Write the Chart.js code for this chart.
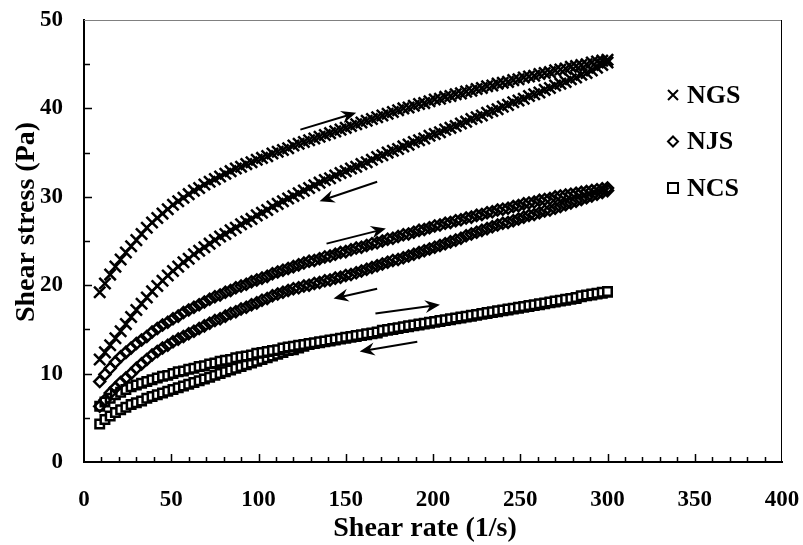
<!DOCTYPE html>
<html>
<head>
<meta charset="utf-8">
<script src="https://cdn.jsdelivr.net/npm/chart.js@4.4.0/dist/chart.umd.min.js"></script>
<style>
  html, body { margin: 0; padding: 0; background: #fff; }
</style>
</head>
<body>
<canvas id="myChart" width="803" height="545"></canvas>
<script>
// shear rate (1/s), shared by every curve
const shearRate = [
  9, 12, 15, 18, 21, 24, 27, 30, 33, 36,
  39, 42, 45, 48, 51, 54, 57, 60, 63, 66,
  69, 72, 75, 78, 81, 84, 87, 90, 93, 96,
  99, 102, 105, 108, 111, 114, 117, 120, 123, 126,
  129, 132, 135, 138, 141, 144, 147, 150, 153, 156,
  159, 162, 165, 168, 171, 174, 177, 180, 183, 186,
  189, 192, 195, 198, 201, 204, 207, 210, 213, 216,
  219, 222, 225, 228, 231, 234, 237, 240, 243, 246,
  249, 252, 255, 258, 261, 264, 267, 270, 273, 276,
  279, 282, 285, 288, 291, 294, 297, 300
];

// shear stress (Pa), increasing and decreasing ramps
const ngsUp = [
  19.2, 20.2, 21.2, 22.1, 22.9, 23.7, 24.4, 25.1, 25.8, 26.5,
  27.1, 27.6, 28.1, 28.6, 29.1, 29.5, 29.9, 30.3, 30.7, 31.0,
  31.4, 31.7, 32.0, 32.3, 32.6, 32.9, 33.2, 33.4, 33.7, 33.9,
  34.2, 34.4, 34.6, 34.9, 35.1, 35.3, 35.5, 35.8, 36.0, 36.2,
  36.4, 36.6, 36.8, 37.0, 37.2, 37.4, 37.6, 37.8, 38.0, 38.2,
  38.4, 38.6, 38.8, 39.0, 39.2, 39.4, 39.6, 39.8, 40.0, 40.1,
  40.3, 40.5, 40.6, 40.8, 41.0, 41.1, 41.3, 41.4, 41.6, 41.7,
  41.9, 42.0, 42.2, 42.3, 42.5, 42.6, 42.8, 42.9, 43.0, 43.2,
  43.3, 43.5, 43.6, 43.7, 43.9, 44.0, 44.1, 44.3, 44.4, 44.5,
  44.7, 44.8, 44.9, 45.0, 45.2, 45.3, 45.4, 45.5
];
const ngsDown = [
  11.6, 12.4, 13.2, 14.0, 14.8, 15.6, 16.4, 17.2, 17.9, 18.6,
  19.3, 19.9, 20.5, 21.1, 21.6, 22.1, 22.6, 23.0, 23.5, 23.9,
  24.3, 24.7, 25.1, 25.5, 25.8, 26.2, 26.5, 26.9, 27.2, 27.5,
  27.9, 28.2, 28.5, 28.9, 29.2, 29.5, 29.8, 30.1, 30.4, 30.7,
  31.0, 31.3, 31.6, 31.9, 32.1, 32.4, 32.7, 32.9, 33.2, 33.4,
  33.7, 33.9, 34.2, 34.5, 34.7, 35.0, 35.2, 35.4, 35.7, 35.9,
  36.2, 36.4, 36.6, 36.9, 37.1, 37.3, 37.6, 37.8, 38.0, 38.3,
  38.5, 38.8, 39.0, 39.2, 39.5, 39.7, 39.9, 40.2, 40.4, 40.7,
  40.9, 41.1, 41.4, 41.6, 41.8, 42.1, 42.3, 42.6, 42.8, 43.0,
  43.3, 43.5, 43.8, 44.0, 44.3, 44.6, 44.9, 45.2
];
const njsUp = [
  9.1, 9.9, 10.6, 11.3, 11.9, 12.4, 12.9, 13.4, 13.8, 14.2,
  14.7, 15.1, 15.5, 15.8, 16.2, 16.5, 16.9, 17.2, 17.5, 17.8,
  18.1, 18.4, 18.7, 18.9, 19.2, 19.4, 19.7, 19.9, 20.1, 20.4,
  20.6, 20.8, 21.0, 21.3, 21.5, 21.7, 21.9, 22.1, 22.3, 22.5,
  22.7, 22.8, 23.0, 23.2, 23.3, 23.5, 23.7, 23.8, 24.0, 24.2,
  24.3, 24.5, 24.7, 24.8, 25.0, 25.2, 25.3, 25.5, 25.7, 25.8,
  26.0, 26.2, 26.3, 26.5, 26.7, 26.8, 27.0, 27.1, 27.3, 27.4,
  27.6, 27.7, 27.9, 28.0, 28.2, 28.3, 28.5, 28.6, 28.7, 28.9,
  29.0, 29.2, 29.3, 29.4, 29.6, 29.7, 29.8, 30.0, 30.1, 30.2,
  30.3, 30.4, 30.5, 30.6, 30.7, 30.8, 30.9, 31.0
];
const njsDown = [
  6.3, 7.0, 7.8, 8.4, 9.0, 9.5, 10.0, 10.6, 11.1, 11.6,
  12.1, 12.5, 12.9, 13.2, 13.6, 13.9, 14.2, 14.5, 14.8, 15.1,
  15.4, 15.7, 16.0, 16.2, 16.5, 16.8, 17.0, 17.3, 17.5, 17.8,
  18.0, 18.3, 18.5, 18.8, 19.0, 19.2, 19.4, 19.6, 19.7, 19.9,
  20.0, 20.2, 20.3, 20.5, 20.6, 20.8, 20.9, 21.1, 21.2, 21.4,
  21.6, 21.8, 22.0, 22.2, 22.4, 22.6, 22.8, 22.9, 23.1, 23.3,
  23.5, 23.7, 23.9, 24.1, 24.3, 24.5, 24.7, 24.9, 25.1, 25.3,
  25.6, 25.8, 26.0, 26.2, 26.4, 26.6, 26.8, 27.0, 27.1, 27.3,
  27.5, 27.7, 27.9, 28.0, 28.2, 28.4, 28.5, 28.7, 28.9, 29.1,
  29.3, 29.5, 29.7, 29.9, 30.1, 30.3, 30.5, 30.7
];
const ncsUp = [
  6.3, 6.8, 7.2, 7.6, 7.9, 8.2, 8.5, 8.7, 8.9, 9.1,
  9.3, 9.5, 9.7, 9.8, 10.0, 10.2, 10.3, 10.5, 10.6, 10.8,
  10.9, 11.1, 11.2, 11.4, 11.5, 11.6, 11.8, 11.9, 12.0, 12.1,
  12.3, 12.4, 12.5, 12.6, 12.7, 12.9, 13.0, 13.1, 13.2, 13.3,
  13.4, 13.5, 13.6, 13.7, 13.8, 13.9, 14.0, 14.1, 14.2, 14.3,
  14.4, 14.5, 14.6, 14.7, 14.9, 15.0, 15.1, 15.2, 15.3, 15.4,
  15.5, 15.6, 15.7, 15.8, 15.9, 16.0, 16.1, 16.2, 16.3, 16.4,
  16.5, 16.6, 16.7, 16.8, 16.9, 17.0, 17.1, 17.2, 17.3, 17.4,
  17.5, 17.6, 17.7, 17.8, 17.9, 18.0, 18.1, 18.2, 18.3, 18.4,
  18.5, 18.6, 18.8, 18.9, 19.0, 19.1, 19.2, 19.3
];
const ncsDown = [
  4.3, 4.8, 5.2, 5.6, 5.9, 6.2, 6.5, 6.7, 6.9, 7.2,
  7.4, 7.6, 7.8, 8.0, 8.2, 8.4, 8.6, 8.8, 9.0, 9.2,
  9.4, 9.6, 9.8, 10.0, 10.2, 10.4, 10.6, 10.8, 11.0, 11.2,
  11.4, 11.6, 11.8, 12.0, 12.2, 12.4, 12.6, 12.7, 12.9, 13.1,
  13.3, 13.4, 13.5, 13.6, 13.7, 13.8, 13.9, 14.0, 14.1, 14.2,
  14.3, 14.4, 14.5, 14.6, 14.8, 14.9, 15.0, 15.1, 15.2, 15.3,
  15.4, 15.5, 15.6, 15.7, 15.8, 15.9, 16.0, 16.1, 16.2, 16.3,
  16.4, 16.5, 16.6, 16.7, 16.8, 16.9, 17.0, 17.1, 17.2, 17.3,
  17.4, 17.5, 17.6, 17.7, 17.8, 17.9, 18.0, 18.1, 18.2, 18.3,
  18.4, 18.5, 18.7, 18.8, 18.9, 19.0, 19.1, 19.2
];

const xTicks = [0, 50, 100, 150, 200, 250, 300, 350, 400];
const yTicks = [0, 10, 20, 30, 40, 50];

// direction arrows [fromX, fromY, toX, toY] in data units
const arrows = [
  [124, 37.6, 156, 39.5],
  [168, 31.7, 135, 29.5],
  [139, 24.7, 173, 26.4],
  [168, 19.6, 143, 18.5],
  [167, 16.8, 204, 17.8],
  [191, 13.6, 158, 12.5]
];

const serif = "'Liberation Serif', 'Times New Roman', serif";

function pts(ys) {
    return shearRate.map((x, i) => ({ x: x, y: ys[i] }));
}

function series(label, ys, style, radius, bw, fill) {
    return {
        label: label,
        data: pts(ys),
        showLine: false,
        pointStyle: style,
        pointRadius: radius,
        pointBorderWidth: bw,
        pointBorderColor: '#000',
        pointBackgroundColor: fill
    };
}

const samples = [
    { label: 'NGS', style: 'crossRot' },
    { label: 'NJS', style: 'rectRot' },
    { label: 'NCS', style: 'rect' }
];

// inward ticks, frame, arrows, legend and axis titles
const decor = {
    id: 'decor',
    afterDraw(chart) {
        const { ctx, chartArea: a, scales: { x, y } } = chart;
        ctx.save();

        ctx.strokeStyle = '#808080';
        ctx.lineWidth = 1;
        ctx.beginPath();
        ctx.moveTo(a.left, a.top + 0.5);
        ctx.lineTo(a.right, a.top + 0.5);
        ctx.stroke();
        ctx.strokeStyle = '#000';
        ctx.beginPath();
        ctx.moveTo(a.right - 0.5, a.top);
        ctx.lineTo(a.right - 0.5, a.bottom);
        ctx.stroke();

        ctx.lineWidth = 1.5;
        ctx.beginPath();
        for (let v = 10; v < 400; v += 10) {
            const px = Math.round(x.getPixelForValue(v)) + 0.5;
            const len = v % 50 === 0 ? 8 : 5;
            ctx.moveTo(px, a.bottom);
            ctx.lineTo(px, a.bottom - len);
        }
        for (let v = 5; v < 50; v += 5) {
            const py = Math.round(y.getPixelForValue(v)) + 0.5;
            const len = v % 10 === 0 ? 8 : 6;
            ctx.moveTo(a.left, py);
            ctx.lineTo(a.left + len, py);
        }
        ctx.stroke();

        ctx.lineWidth = 2;
        ctx.fillStyle = '#000';
        arrows.forEach(ar => {
            const x1 = x.getPixelForValue(ar[0]), y1 = y.getPixelForValue(ar[1]);
            const x2 = x.getPixelForValue(ar[2]), y2 = y.getPixelForValue(ar[3]);
            const ang = Math.atan2(y2 - y1, x2 - x1);
            ctx.beginPath();
            ctx.moveTo(x1, y1);
            ctx.lineTo(x2 - 6 * Math.cos(ang), y2 - 6 * Math.sin(ang));
            ctx.stroke();
            ctx.save();
            ctx.translate(x2, y2);
            ctx.rotate(ang);
            ctx.beginPath();
            ctx.moveTo(0, 0);
            ctx.lineTo(-15, -6.5);
            ctx.lineTo(-10, 0);
            ctx.lineTo(-15, 6.5);
            ctx.closePath();
            ctx.fill();
            ctx.restore();
        });

        // legend
        ctx.font = 'bold 26px ' + serif;
        ctx.textBaseline = 'middle';
        ctx.textAlign = 'left';
        samples.forEach((s, i) => {
            const cx = a.right - 109;
            const cy = a.top + 75 + i * 46.5;
            ctx.lineWidth = 2;
            ctx.beginPath();
            if (s.style === 'crossRot') {
                ctx.moveTo(cx - 5, cy - 5); ctx.lineTo(cx + 5, cy + 5);
                ctx.moveTo(cx + 5, cy - 5); ctx.lineTo(cx - 5, cy + 5);
            } else if (s.style === 'rectRot') {
                ctx.moveTo(cx - 5, cy); ctx.lineTo(cx, cy - 5);
                ctx.lineTo(cx + 5, cy); ctx.lineTo(cx, cy + 5);
                ctx.closePath();
            } else {
                ctx.rect(cx - 5, cy - 5, 10, 10);
            }
            ctx.stroke();
            ctx.fillText(s.label, cx + 14, cy + 1);
        });

        // axis titles
        ctx.font = 'bold 28px ' + serif;
        ctx.textAlign = 'center';
        ctx.fillText('Shear rate (1/s)', (a.left + a.right) / 2 - 8, a.bottom + 67);
        ctx.translate(27, (a.top + a.bottom) / 2 - 19);
        ctx.rotate(-Math.PI / 2);
        ctx.fillText('Shear stress (Pa)', 0, 0);
        ctx.restore();
    }
};

const tickFont = { family: serif, weight: 'bold', size: 23 };

const ctx = document.getElementById('myChart').getContext('2d');
const myChart = new Chart(ctx, {
    type: 'scatter',
    data: {
        datasets: [
            series('NGS', ngsUp, 'crossRot', 8, 2.5, '#000'),
            series('NGS', ngsDown, 'crossRot', 8, 2.5, '#000'),
            series('NJS', njsUp, 'rectRot', 5.5, 2.5, 'rgba(0,0,0,0)'),
            series('NJS', njsDown, 'rectRot', 5.5, 2.5, 'rgba(0,0,0,0)'),
            series('NCS', ncsUp, 'rect', 6, 2.5, '#fff'),
            series('NCS', ncsDown, 'rect', 6, 2.5, '#fff')
        ]
    },
    options: {
        responsive: false,
        animation: false,
        events: [],
        layout: { padding: { top: 20, right: 21, left: 0, bottom: 0 } },
        plugins: {
            legend: { display: false },
            tooltip: { enabled: false }
        },
        scales: {
            x: {
                type: 'linear',
                min: 0,
                max: 400,
                afterBuildTicks: s => { s.ticks = xTicks.map(v => ({ value: v })); },
                afterFit: s => { s.height = 83; s.paddingLeft = 0; s.paddingRight = 0; },
                ticks: { font: tickFont, color: '#000', padding: 24, maxRotation: 0 },
                grid: { display: false, drawTicks: false },
                border: { display: true, color: '#000', width: 2 }
            },
            y: {
                min: 0,
                max: 50,
                afterBuildTicks: s => { s.ticks = yTicks.map(v => ({ value: v })); },
                afterFit: s => { s.width = 84; s.paddingTop = 0; s.paddingBottom = 0; },
                ticks: { font: tickFont, color: '#000', padding: 21 },
                grid: { display: false, drawTicks: false },
                border: { display: true, color: '#000', width: 2 }
            }
        }
    },
    plugins: [decor]
});
</script>
</body>
</html>
